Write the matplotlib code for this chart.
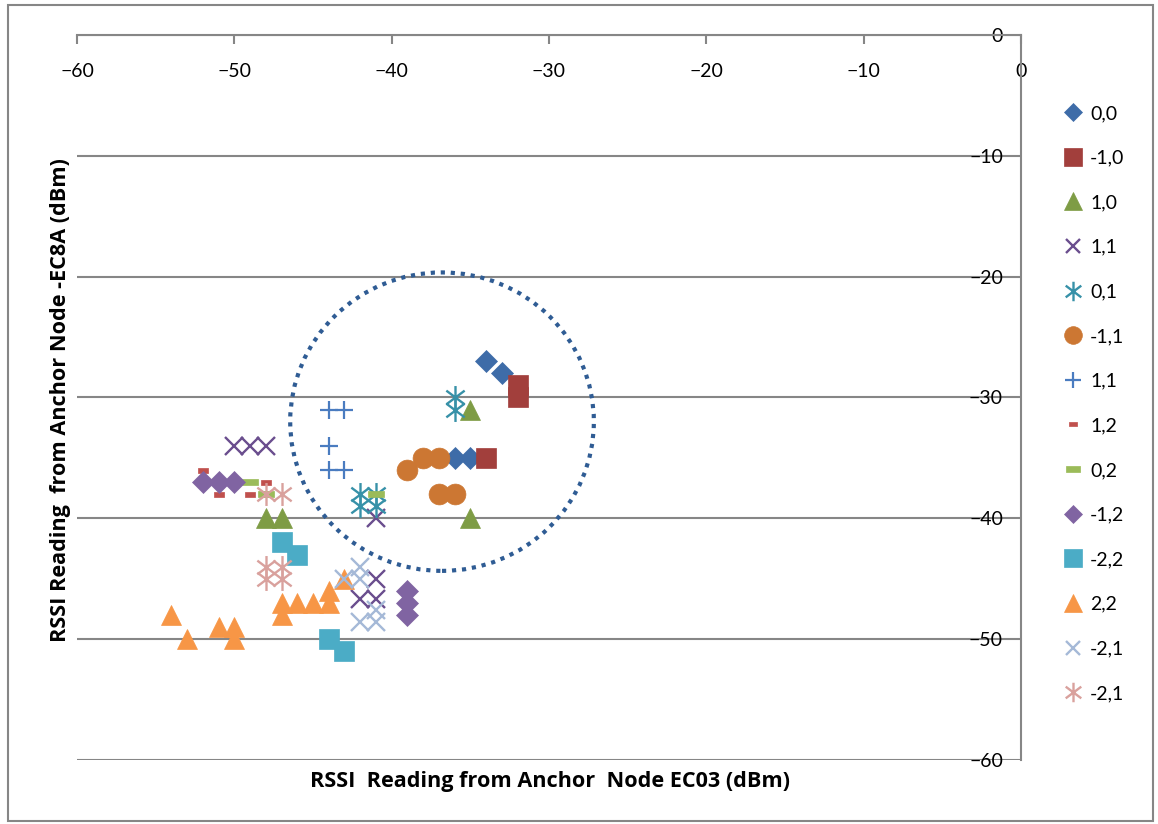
import matplotlib
matplotlib.use('Agg')

import matplotlib.pyplot as plt
import numpy as np
from matplotlib.path import Path
from matplotlib.patches import Ellipse, Rectangle

plt.rcParams['font.family'] = ['Lato', 'DejaVu Sans']

# series data (x = EC03 reading, y = EC8A reading)
labels = ['0,0', '-1,0', '1,0', '1,1', '0,1', '-1,1', '1,1', '1,2', '0,2',
          '-1,2', '-2,2', '2,2', '-2,1', '-2,1']

x_00 = [-34, -33, -36, -35]
y_00 = [-27, -28, -35, -35]
x_m10 = [-32, -32, -34]
y_m10 = [-29, -30, -35]
x_10 = [-35, -35, -48, -47]
y_10 = [-31, -40, -40, -40]
x_11 = [-50, -49, -48, -41, -41, -42, -41]
y_11 = [-34, -34, -34, -40, -45, -46.7, -46.7]
x_01 = [-36, -36, -42, -41, -42, -41]
y_01 = [-30, -31, -38, -38, -39, -39]
x_m11 = [-39, -38, -37, -37, -36]
y_m11 = [-36, -35, -35, -38, -38]
x_11b = [-44, -43, -44, -44, -43]
y_11b = [-31, -31, -34, -36, -36]
x_12 = [-52, -51, -48, -49]
y_12 = [-36, -38, -37, -38]
x_02 = [-49, -48, -41]
y_02 = [-37, -38, -38]
x_m12 = [-52, -51, -50, -39, -39, -39]
y_m12 = [-37, -37, -37, -46, -47, -48]
x_m22 = [-47, -46, -44, -43]
y_m22 = [-42, -43, -50, -51]
x_22 = [-54, -53, -51, -50, -50, -47, -47, -46, -45, -44, -44, -43]
y_22 = [-48, -50, -49, -49, -50, -47, -48, -47, -47, -46, -47, -45]
x_m21 = [-43, -42, -42, -41, -42, -41]
y_m21 = [-45, -44, -45, -47.6, -48.6, -48.6]
x_m21b = [-48, -48, -47, -47, -48, -47]
y_m21b = [-44, -45, -44, -45, -38, -38]

# custom marker shapes
ast = Path([(0, -1), (0, 1), (-0.8, -0.6), (0.8, 0.6), (-0.8, 0.6), (0.8, -0.6)],
           [Path.MOVETO, Path.LINETO] * 3)
dash_s = Path([(-1, -0.5), (1, -0.5), (1, 0.5), (-1, 0.5), (-1, -0.5)],
              [Path.MOVETO, Path.LINETO, Path.LINETO, Path.LINETO, Path.CLOSEPOLY])
dash_l = Path([(-1, -0.35), (1, -0.35), (1, 0.35), (-1, 0.35), (-1, -0.35)],
              [Path.MOVETO, Path.LINETO, Path.LINETO, Path.LINETO, Path.CLOSEPOLY])

series = [
    (x_00, y_00, dict(marker='D', ms=11.3, color='#3E6CA8')),
    (x_m10, y_m10, dict(marker='s', ms=15, color='#A23F3C')),
    (x_10, y_10, dict(marker='^', ms=15, color='#7E9C45')),
    (x_11, y_11, dict(marker='x', ms=12.5, color='#6A4E8E', mew=1.7)),
    (x_01, y_01, dict(marker=ast, ms=16.5, color='#3791A8', mew=1.7)),
    (x_m11, y_m11, dict(marker='o', ms=15, color='#CC7733')),
    (x_11b, y_11b, dict(marker='+', ms=13.5, color='#4A7CC0', mew=1.6)),
    (x_12, y_12, dict(marker=dash_s, ms=7.2, color='#C0504D')),
    (x_02, y_02, dict(marker=dash_l, ms=12.2, color='#9BBB59')),
    (x_m12, y_m12, dict(marker='D', ms=11.3, color='#8064A2')),
    (x_m22, y_m22, dict(marker='s', ms=15, color='#4BACC6')),
    (x_22, y_22, dict(marker='^', ms=15, color='#F79646')),
    (x_m21, y_m21, dict(marker='x', ms=12.5, color='#A5B9D7', mew=1.7)),
    (x_m21b, y_m21b, dict(marker=ast, ms=16.5, color='#D9A19D', mew=1.7)),
]

fig = plt.figure(figsize=(11.58, 8.24), dpi=100)
ax = fig.add_axes([0.0665, 0.0777, 0.8152, 0.8798])

for (xs, ys, st), lab in zip(series, labels):
    st = dict(st)
    if 'mew' not in st:
        st['mec'] = st['color']
        st['mew'] = 0.5
    ax.plot(xs, ys, ls='none', label=lab, zorder=3, **st)

# dotted ring around the central cluster
ax.add_patch(Ellipse((-36.8, -32.0), 19.3, 24.7, fill=False, ec='#2F5C94',
                     lw=3.0, ls=(0, (1, 1.4)), zorder=2))

ax.set_xlim(-60, 0)
ax.set_ylim(-60, 0)
ax.set_xticks(np.arange(-60, 1, 10))
ax.set_yticks(np.arange(-60, 1, 10))

ax.spines['top'].set_visible(False)
ax.spines['right'].set_visible(False)
ax.spines['bottom'].set_position(('data', 0))
ax.spines['left'].set_position(('data', 0))
for s in ['bottom', 'left']:
    ax.spines[s].set_color('#868686')
    ax.spines[s].set_linewidth(1.5)
ax.tick_params(axis='x', direction='out', length=6.5, width=1.5, color='#868686',
               labelsize=14, pad=13.5)
ax.tick_params(axis='y', direction='out', length=0, labelsize=14, pad=13)
ax.yaxis.grid(True, color='#868686', lw=1.5)
ax.set_axisbelow(True)

fig.text(0.475, 0.052, 'RSSI  Reading from Anchor  Node EC03 (dBm)', ha='center',
         va='center', fontsize=15.6, fontweight='bold', family=['Open Sans', 'DejaVu Sans'])
fig.text(0.052, 0.514, 'RSSI Reading  from Anchor Node -EC8A (dBm)', ha='center',
         va='center', rotation=90, fontsize=15.6, fontweight='bold',
         family=['Open Sans', 'DejaVu Sans'])

ax.legend(loc='upper left', bbox_to_anchor=(0.912, 0.882), bbox_transform=fig.transFigure,
          frameon=False, fontsize=14, labelspacing=1.42, handlelength=0.9,
          handletextpad=0.45, markerscale=0.85, borderaxespad=0)

fig.add_artist(Rectangle((8 / 1158, 3 / 824), 1145 / 1158, 816 / 824, fill=False,
                         ec='#868686', lw=1.5, transform=fig.transFigure))

fig.savefig('out.png', dpi=100)
